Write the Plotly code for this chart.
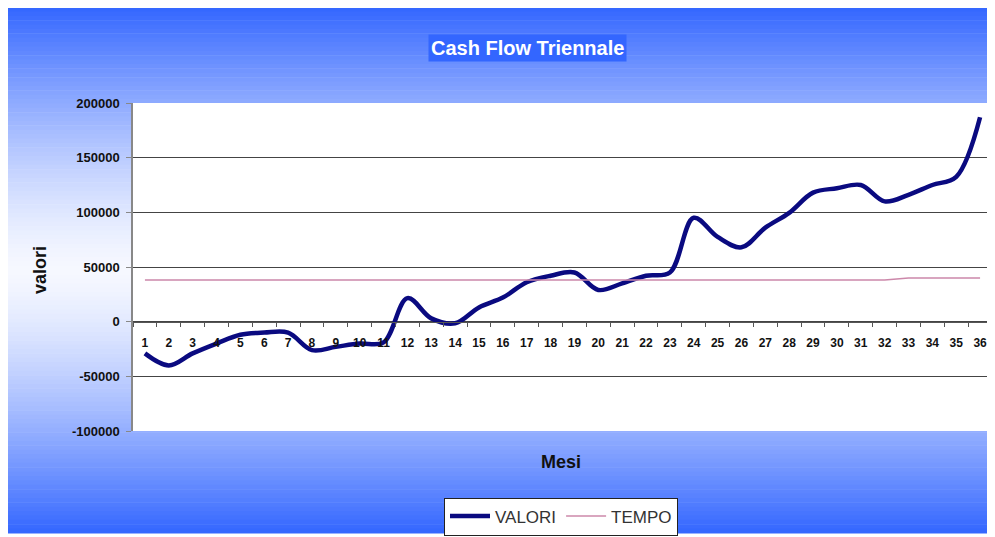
import plotly.graph_objects as go

months = [str(i) for i in range(1, 37)]
valori = [-29000, -40000, -29000, -20000, -12000, -10000, -10000, -26000, -23000, -20000,
          -19000, 21500, 3000, -1500, 13000, 22000, 36000, 42000, 45000, 29000,
          35000, 42000, 45000, 95000, 77500, 68000, 86000, 99500, 118000, 122000,
          125000, 110000, 116000, 125000, 132500, 187000]
tempo = [38000] * 32 + [40000] * 4
y_ticks = [-100000, -50000, 0, 50000, 100000, 150000, 200000]

OFF = 8  # page body margin
W, H = 995 - OFF, 537 - OFF
# plot area in page pixels
L, R, T, B = 133, 992, 103, 431

def px(x):
    return (x - L) / (R - L)

def py(y):
    return (B - y) / (B - T)

fig = go.Figure()
fig.add_trace(go.Scatter(x=months, y=valori, name="VALORI", mode="lines",
                         line=dict(color="#0a0a80", width=4.5, shape="spline", smoothing=1)))
fig.add_trace(go.Scatter(x=months, y=tempo, name="TEMPO", mode="lines",
                         line=dict(color="#cc88aa", width=1.5)))

# gradient background (chart area)
shapes = []
top, bot, mid = 7, 533, 270
blue = (51, 102, 255)
white = (246, 248, 255)
n = 120
for i in range(n):
    y0 = top + (bot - top) * i / n
    y1 = top + (bot - top) * (i + 1) / n
    yc = (y0 + y1) / 2
    if yc < mid:
        t = (mid - yc) / (mid - top)
    else:
        t = (yc - mid) / (bot - mid)
    t = t ** 1.4
    c = tuple(round(white[k] + (blue[k] - white[k]) * t) for k in range(3))
    shapes.append(dict(type="rect", xref="paper", yref="paper", layer="below",
                       x0=px(0), x1=px(993), y0=py(y1 + 0.5), y1=py(0 if i == 0 else y0),
                       fillcolor="rgb(%d,%d,%d)" % c, line=dict(width=0)))
shapes.append(dict(type="rect", xref="paper", yref="paper", layer="below",
                   x0=0, x1=1, y0=0, y1=1, fillcolor="white", line=dict(width=0)))

fig.update_layout(
    width=W, height=H,
    margin=dict(l=L - OFF, r=(995 - R), t=T - OFF, b=(537 - B), autoexpand=False),
    paper_bgcolor="white", plot_bgcolor="white",
    shapes=shapes,
    font=dict(family="Liberation Sans, Arial, sans-serif", color="#111"),
    showlegend=True,
    legend=dict(orientation="h", x=px(561), xanchor="center", y=py(516.5), yanchor="middle",
                bgcolor="white", bordercolor="#222", borderwidth=1,
                font=dict(size=17, color="#333"), itemwidth=40),
    annotations=[
        dict(text="Cash Flow Triennale", x=px(527), y=py(47.5), xref="paper", yref="paper",
             xanchor="center", yanchor="middle",
             showarrow=False, font=dict(size=20, color="white", weight="bold"),
             bgcolor="#3366ff", borderpad=2),
        dict(text="Mesi", x=px(561), y=py(462), xref="paper", yref="paper",
             xanchor="center", yanchor="middle",
             showarrow=False, font=dict(size=18, color="#111", weight="bold")),
        dict(text="valori", x=px(40), y=py(270), xref="paper", yref="paper",
             xanchor="center", yanchor="middle",
             showarrow=False, textangle=-90, font=dict(size=18, color="#111", weight="bold")),
    ],
)
fig.update_xaxes(type="category", range=[-0.5, 35.5], anchor="free", position=py(321.5),
                 showline=True, linecolor="#555", linewidth=1,
                 ticks="outside", tickson="boundaries", ticklen=4, tickcolor="#555",
                 ticklabelstandoff=10,
                 tickfont=dict(size=12, weight="bold", color="#111"),
                 showgrid=False, zeroline=False, fixedrange=True)
fig.update_yaxes(range=[-100000, 200000], tickvals=y_ticks, ticktext=[str(v) for v in y_ticks],
                 showline=True, linecolor="#888", linewidth=1.5,
                 ticks="outside", ticklen=5, tickcolor="#888",
                 ticklabelstandoff=4,
                 tickfont=dict(size=13, weight="bold", color="#111"),
                 showgrid=True, gridcolor="#444", gridwidth=1, zeroline=False)

fig.write_html("out.html")
